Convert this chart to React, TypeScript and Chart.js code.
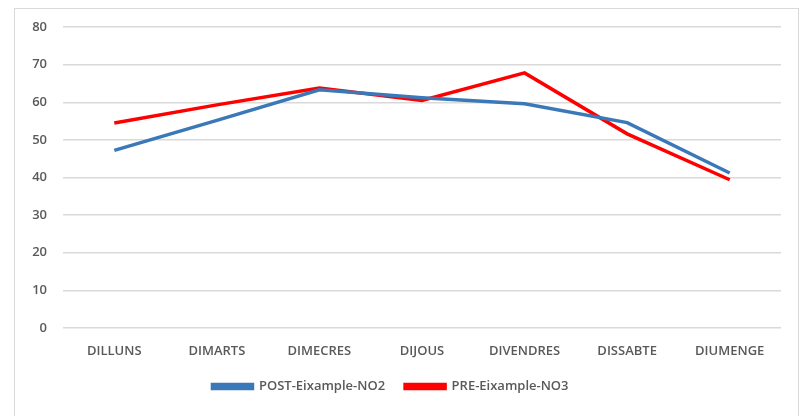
import React, { useEffect, useRef } from "react";
import { Chart, registerables } from "chart.js";

Chart.register(...registerables);

const categories = ["DILLUNS", "DIMARTS", "DIMECRES", "DIJOUS", "DIVENDRES", "DISSABTE", "DIUMENGE"];
const postNO2 = [47.2, 55.2, 63.3, 61.2, 59.6, 54.6, 41.2];
const preNO3 = [54.5, 59.3, 63.8, 60.5, 67.8, 51.6, 39.4];
const seriesNames = ["POST-Eixample-NO2", "PRE-Eixample-NO3"];
const yTicks = { min: 0, max: 80, step: 10 };

const FONT = "'Open Sans', sans-serif";

export default function App() {
  const ref = useRef<HTMLCanvasElement | null>(null);
  useEffect(() => {
    if (!ref.current) return;
    const chart = new Chart(ref.current, {
      type: "line",
      data: {
        labels: categories,
        datasets: [
          {
            label: seriesNames[0],
            data: postNO2,
            borderColor: "#3a78b8",
            backgroundColor: "#3a78b8",
            borderWidth: 3.5,
            pointRadius: 0,
            tension: 0,
          },
          {
            label: seriesNames[1],
            data: preNO3,
            borderColor: "#ff0000",
            backgroundColor: "#ff0000",
            borderWidth: 3.5,
            pointRadius: 0,
            tension: 0,
          },
        ],
      },
      options: {
        animation: false,
        responsive: false,
        layout: { padding: { top: 27, right: 23, bottom: 13, left: 0 } },
        plugins: {
          tooltip: { enabled: false },
          legend: {
            position: "bottom",
            labels: {
              boxWidth: 40,
              boxHeight: 4,
              color: "#595959",
              padding: 20,
              font: { family: FONT, size: 13, weight: "600" },
            },
          },
        },
        scales: {
          x: {
            offset: true,
            grid: { display: false, drawTicks: false },
            border: { display: false },
            ticks: { color: "#595959", padding: 15, font: { family: FONT, size: 13, weight: "600" } },
            afterFit: (s: any) => { s.height = 32; },
          },
          y: {
            min: yTicks.min,
            max: yTicks.max,
            grid: { color: "#d9d9d9", lineWidth: 1.5, drawTicks: false },
            border: { display: false },
            ticks: { stepSize: yTicks.step, color: "#595959", padding: 16, font: { family: FONT, size: 13, weight: "600" } },
            afterFit: (s: any) => { s.width = 63; },
          },
        },
      },
    });
    return () => chart.destroy();
  }, []);
  return (
    <div style={{ position: "fixed", left: 0, top: 0, width: 804, height: 416, background: "#fff", overflow: "hidden" }}>
      <div style={{ position: "absolute", left: 14, top: 8, width: 785, height: 430, border: "1px solid #d9d9d9", boxSizing: "border-box" }} />
      <canvas ref={ref} width={804} height={416} style={{ position: "absolute", left: 0, top: 0 }} />
    </div>
  );
}
